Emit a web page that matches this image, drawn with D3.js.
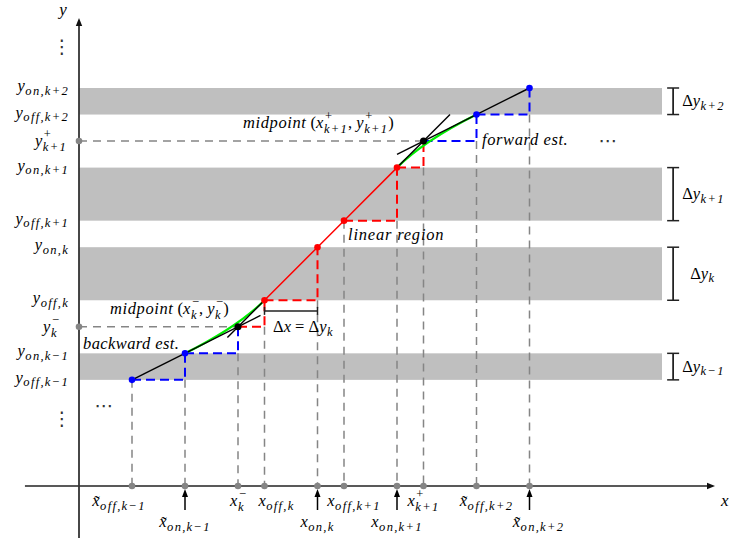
<!DOCTYPE html>
<html><head><meta charset="utf-8">
<script src="https://cdn.jsdelivr.net/npm/d3@7"></script>
<style>
body{margin:0;background:#fff}svg{display:block}
svg text{font-family:"Liberation Serif","Times New Roman",serif;white-space:pre}
svg text.ell{font-family:"DejaVu Sans",sans-serif}
</style>
</head><body>
<svg id="c" width="731" height="538"></svg>
<script>
// ---------------- data ----------------
const xTicks   = [2, 4, 6, 7, 9, 10, 12, 13, 15, 17];
const xTickSub = ["off,k−1", "on,k−1", "k", "off,k", "on,k", "off,k+1", "on,k+1", "k+1", "off,k+2", "on,k+2"];
const xTickSup = [null, null, "−", null, null, null, null, "+", null, null];
const xTickTilde = [true, true, false, false, false, false, false, false, true, true];
const onTicks  = [4, 9, 12, 17];

const yLevels  = [4, 5, 7, 9, 10, 12, 14, 15];
const yLevelSub = ["off,k−1", "on,k−1", "off,k", "on,k", "off,k+1", "on,k+1", "off,k+2", "on,k+2"];
const yMidLevels = [6, 13];
const yMidSub  = ["k", "k+1"];
const yMidSup  = ["−", "+"];

const bands     = [[4, 5], [7, 9], [10, 12], [14, 15]];
const bandNames = ["k−1", "k", "k+1", "k+2"];

const backwardPts = [[2, 4], [4, 5]];
const midMinus    = [6, 6];
const linearPts   = [[7, 7], [9, 9], [10, 10], [12, 12]];
const midPlus     = [13, 13];
const forwardPts  = [[15, 14], [17, 15]];

const tangentLines = [[[2, 4], [6.85, 6.43]], [[5.6, 5.6], [7, 7]], [[12, 12], [14, 14]], [[12, 12.5], [17, 15]]];
const greenCurves  = [[[4, 5], [6, 6], [7, 7]], [[12, 12], [13, 13], [15, 14]]];
const deltaX = [7, 9];
const deltaXLevel = 6.6;

// ---------------- setup ----------------
const svg = d3.select("#c").attr("fill", "#000");
const x = d3.scaleLinear().domain([0, 24]).range([79, 715]);
const y = d3.scaleLinear().domain([0, 15]).range([486, 88]);

const FS = 16.5, SFS = 12.5;
const NB = s => s.replace(/ /g, "\u00a0");
function math(parent, items, px, py, anchor) {
  const g = parent.append("g");
  let cx = 0;
  for (const it of items) {
    const t = g.append("text").attr("x", cx).attr("y", 0)
      .attr("font-style", it.up ? "normal" : "italic")
      .attr("font-size", it.fs || FS)
      .attr("letter-spacing", it.ls || 0)
      .text(NB(it.tilde ? it.t + "\u0303" : it.t));
    const w = t.node().getComputedTextLength();
    let adv = w;
    if (it.sub || it.sup) {
      let sw = 0;
      const sx = cx + w + 0.5;
      if (it.sub) {
        const s = g.append("text").attr("x", sx).attr("y", it.sup ? 5 : 3.5).attr("font-style", "italic")
          .attr("font-size", SFS).attr("letter-spacing", 1.3).text(it.sub);
        sw = Math.max(sw, s.node().getComputedTextLength());
      }
      if (it.sup) {
        const s = g.append("text").attr("x", sx + 1).attr("y", -8).attr("font-size", SFS).text(it.sup);
        sw = Math.max(sw, s.node().getComputedTextLength() + 1);
      }
      adv = w + 0.5 + sw;
    }
    cx += adv;
  }
  const dx = anchor === "end" ? -cx : anchor === "middle" ? -cx / 2 : 0;
  g.attr("transform", `translate(${px + dx},${py})`);
  return g;
}

const GRAY = "#858585";
const line = d3.line().x(d => x(d[0])).y(d => y(d[1]));
const stair = (p, q) => [p, [q[0], p[1]], q];

// bands
svg.append("g").selectAll("rect").data(bands).join("rect")
  .attr("x", x(0)).attr("width", x(22) - x(0))
  .attr("y", d => y(d[1])).attr("height", d => y(d[0]) - y(d[1]))
  .attr("fill", "#bfbfbf");

// staircases
const blueStairs = [stair(backwardPts[0], backwardPts[1]), stair(backwardPts[1], midMinus),
                    stair(midPlus, forwardPts[0]), stair(forwardPts[0], forwardPts[1])];
const redStairs = [stair(midMinus, linearPts[0]), stair(linearPts[0], linearPts[1]),
                   stair(linearPts[2], linearPts[3]), stair(linearPts[3], midPlus)];
const allVerts = blueStairs.concat(redStairs).flat();

// gray dashed guide lines
const gGray = svg.append("g").attr("stroke", GRAY).attr("stroke-width", 1.5).attr("stroke-dasharray", "8,6").attr("fill", "none");
xTicks.forEach(t => {
  const top = d3.min(allVerts.filter(v => v[0] === t), v => v[1]);
  gGray.append("line").attr("x1", x(t)).attr("x2", x(t)).attr("y1", y(top)).attr("y2", y(0));
});
yMidLevels.forEach(v => {
  gGray.append("line").attr("x1", x(0)).attr("x2", x(v)).attr("y1", y(v)).attr("y2", y(v));
});

// colored dashed staircases
svg.append("g").selectAll("path").data(blueStairs).join("path").attr("d", line)
  .attr("fill", "none").attr("stroke", "#0000ff").attr("stroke-width", 2).attr("stroke-dasharray", "9,5");
svg.append("g").selectAll("path").data(redStairs).join("path").attr("d", line)
  .attr("fill", "none").attr("stroke", "#ff0000").attr("stroke-width", 2).attr("stroke-dasharray", "9,5");

// green curves
greenCurves.forEach(c => {
  const p = d3.path();
  p.moveTo(x(c[0][0]), y(c[0][1]));
  p.quadraticCurveTo(x(c[1][0]), y(c[1][1]), x(c[2][0]), y(c[2][1]));
  svg.append("path").attr("d", p.toString()).attr("fill", "none").attr("stroke", "#00ee00").attr("stroke-width", 2.2);
});

// red linear line
svg.append("path").attr("d", line(linearPts)).attr("fill", "none").attr("stroke", "#ff0000").attr("stroke-width", 1.5);

// black tangent lines
svg.append("g").selectAll("path").data(tangentLines).join("path").attr("d", line)
  .attr("fill", "none").attr("stroke", "#000").attr("stroke-width", 1.4);

// axes
const gAx = svg.append("g");
gAx.append("line").attr("x1", x(-2.04)).attr("x2", x(24) - 6).attr("y1", y(0)).attr("y2", y(0)).attr("stroke", "#222").attr("stroke-width", 1.5);
gAx.append("path").attr("d", `M${x(24)},${y(0)} l-8,-3.2 l0,6.4 z`).attr("fill", "#111");
gAx.append("line").attr("x1", x(0)).attr("x2", x(0)).attr("y1", 538).attr("y2", 24).attr("stroke", "#333").attr("stroke-width", 1.8);
gAx.append("path").attr("d", `M${x(0)},18 l-3.2,8 l6.4,0 z`).attr("fill", "#111");

// arrows under "on" ticks
onTicks.forEach(t => {
  gAx.append("line").attr("x1", x(t)).attr("x2", x(t)).attr("y1", y(0) + 24).attr("y2", y(0) + 8).attr("stroke", "#000").attr("stroke-width", 1.5);
  gAx.append("path").attr("d", `M${x(t)},${y(0) + 3} l-3,8 l6,0 z`).attr("fill", "#000");
});

// dots
const dots = svg.append("g");
xTicks.forEach(t => dots.append("circle").attr("cx", x(t)).attr("cy", y(0)).attr("r", 3.3).attr("fill", GRAY));
yMidLevels.forEach(v => dots.append("circle").attr("cx", x(0)).attr("cy", y(v)).attr("r", 3.3).attr("fill", GRAY));
backwardPts.concat(forwardPts).forEach(p => dots.append("circle").attr("cx", x(p[0])).attr("cy", y(p[1])).attr("r", 3.3).attr("fill", "#0000ff"));
linearPts.forEach(p => dots.append("circle").attr("cx", x(p[0])).attr("cy", y(p[1])).attr("r", 3.3).attr("fill", "#ff0000"));
[midMinus, midPlus].forEach(p => dots.append("circle").attr("cx", x(p[0])).attr("cy", y(p[1])).attr("r", 3.5).attr("fill", "#000"));

// Δx bracket
const gB = svg.append("g").attr("stroke", "#222").attr("stroke-width", 1.5);
gB.append("line").attr("x1", x(deltaX[0])).attr("x2", x(deltaX[1])).attr("y1", y(deltaXLevel)).attr("y2", y(deltaXLevel));
deltaX.forEach(v => gB.append("line").attr("x1", x(v)).attr("x2", x(v)).attr("y1", y(deltaXLevel) - 4).attr("y2", y(deltaXLevel) + 4));

// Δy brackets
const bx = x(22.42);
bands.forEach((b, i) => {
  gB.append("line").attr("x1", bx).attr("x2", bx).attr("y1", y(b[1])).attr("y2", y(b[0])).attr("stroke-width", 1.8);
  gB.append("line").attr("x1", bx - 6).attr("x2", bx + 6).attr("y1", y(b[1])).attr("y2", y(b[1]));
  gB.append("line").attr("x1", bx - 6).attr("x2", bx + 6).attr("y1", y(b[0])).attr("y2", y(b[0]));
  const cy = (y(b[0]) + y(b[1])) / 2;
  math(svg, [{t: "Δ", up: true}, {t: "y", sub: bandNames[i]}], bx + (bandNames[i] === "k" ? 17 : 9), cy + 5, "start");
});

// x tick labels
const tickDx = [-13, 0, 0, 12, 0, 10, 0, 0, 10, 9];
xTicks.forEach((t, i) => {
  const row = onTicks.includes(t) ? 1 : 0;
  math(svg, [{t: "x", tilde: xTickTilde[i], sub: xTickSub[i], sup: xTickSup[i]}],
       x(t) + tickDx[i], row ? 527 : 506, "middle");
});

// y labels
yLevels.forEach((v, i) => math(svg, [{t: "y", sub: yLevelSub[i]}], 69, y(v) + 3, "end"));
yMidLevels.forEach((v, i) => math(svg, [{t: "y", sub: yMidSub[i], sup: yMidSup[i]}], 51, y(v) + 5, "middle"));

// axis names
svg.append("text").attr("x", 63).attr("y", 15).attr("text-anchor", "middle").attr("font-style", "italic").attr("font-size", 17).text("y");
svg.append("text").attr("x", 721).attr("y", 506).attr("font-style", "italic").attr("font-size", 17).text("x");

// ellipses
const ell = svg.append("g").attr("fill", "#333");
ell.append("text").attr("class", "ell").attr("x", 62).attr("y", 53).attr("text-anchor", "middle").attr("font-size", 19).text("⋮");
ell.append("text").attr("class", "ell").attr("x", 62).attr("y", 425).attr("text-anchor", "middle").attr("font-size", 19).text("⋮");
ell.append("text").attr("class", "ell").attr("x", 104).attr("y", 412).attr("text-anchor", "middle").attr("font-size", 19).text("⋯");
ell.append("text").attr("class", "ell").attr("x", 608).attr("y", 147).attr("text-anchor", "middle").attr("font-size", 19).text("⋯");

// annotations
const LS = 0.6;
math(svg, [{t: "midpoint", ls: LS}, {t: " (", up: true}, {t: "x", sub: "k+1", sup: "+"}, {t: ", ", up: true}, {t: "y", sub: "k+1", sup: "+"}, {t: ")", up: true}], 243, 128, "start");
math(svg, [{t: "midpoint", ls: LS}, {t: " (", up: true}, {t: "x", sub: "k", sup: "−"}, {t: ", ", up: true}, {t: "y", sub: "k", sup: "−"}, {t: ")", up: true}], 110, 314, "start");
math(svg, [{t: "linear region", ls: 0.8}], 348, 240, "start");
math(svg, [{t: "forward est.", ls: LS}], 482, 145, "start");
math(svg, [{t: "backward est.", ls: 0.4}], 83, 349, "start");
math(svg, [{t: "Δ", up: true}, {t: "x"}, {t: " = ", up: true}, {t: "Δ", up: true}, {t: "y", sub: "k"}], 273, 332, "start");
</script>
</body></html>
